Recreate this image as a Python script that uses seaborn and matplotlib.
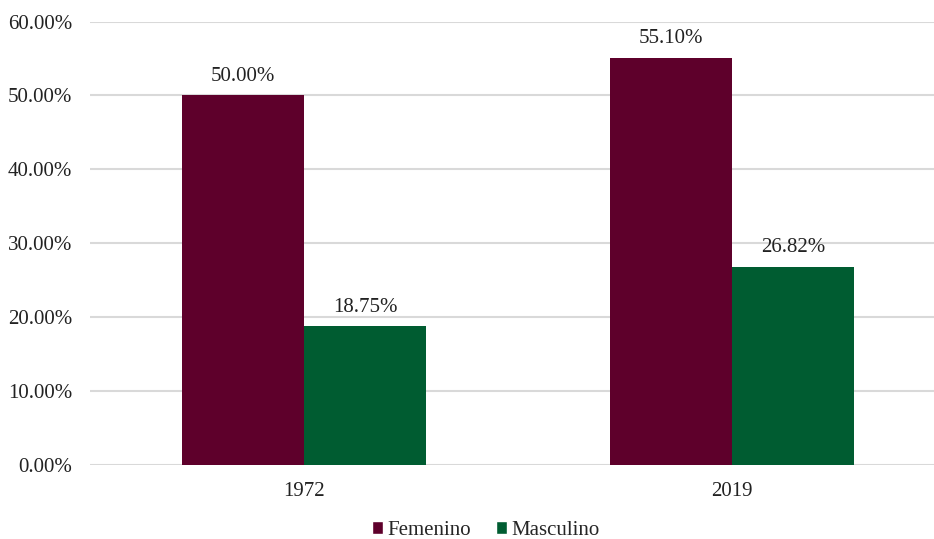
import numpy as np
import pandas as pd
import seaborn as sns
import matplotlib.pyplot as plt
from matplotlib.ticker import FuncFormatter
from matplotlib.patches import Patch

# ===== 数据 =====
years = ['1972', '2019']
femenino = [50.00, 55.10]
masculino = [18.75, 26.82]
series = ['Femenino', 'Masculino']
colors = ['#5E002B', '#005C31']

df = pd.DataFrame({
    'year': years * 2,
    'sexo': ['Femenino'] * 2 + ['Masculino'] * 2,
    'valor': femenino + masculino,
})

sns.set_style('white')
plt.rcParams['font.family'] = ['Liberation Serif', 'DejaVu Serif']
plt.rcParams['font.size'] = 15

fig = plt.figure(figsize=(9.34, 5.39), dpi=100)
ax = fig.add_axes([0.0964, 0.1373, 0.9165, 0.8228])

sns.barplot(data=df, x='year', y='valor', hue='sexo', palette=colors,
            width=0.57, gap=0, saturation=1, linewidth=0, ax=ax, legend=False)

for cont in ax.containers:
    ax.bar_label(cont, labels=[f'{v:.2f}%' for v in cont.datavalues],
                 padding=7, fontsize=15, color='#222222')

ax.set_ylim(0, 60)
ax.set_yticks(np.arange(0, 61, 10))
ax.yaxis.set_major_formatter(FuncFormatter(lambda v, p: f'{v:.2f}%'))
ax.set_xlim(-0.5, 1.5)
ax.grid(axis='y', color='#d9d9d9', linewidth=1.5)
ax.set_axisbelow(True)
for s in ax.spines.values():
    s.set_visible(False)
ax.tick_params(axis='both', length=0, labelsize=15, colors='#222222')
ax.tick_params(axis='x', pad=12)
ax.tick_params(axis='y', pad=13)
ax.set_xlabel('')
ax.set_ylabel('')

handles = [Patch(facecolor=c, label=s) for c, s in zip(colors, series)]
fig.legend(handles=handles, loc='lower center', bbox_to_anchor=(0.52, -0.036),
           ncol=2, frameon=False, fontsize=15, handlelength=0.55,
           handleheight=0.55, handletextpad=0.2, columnspacing=1.2)

fig.savefig('out.png', dpi=100)
